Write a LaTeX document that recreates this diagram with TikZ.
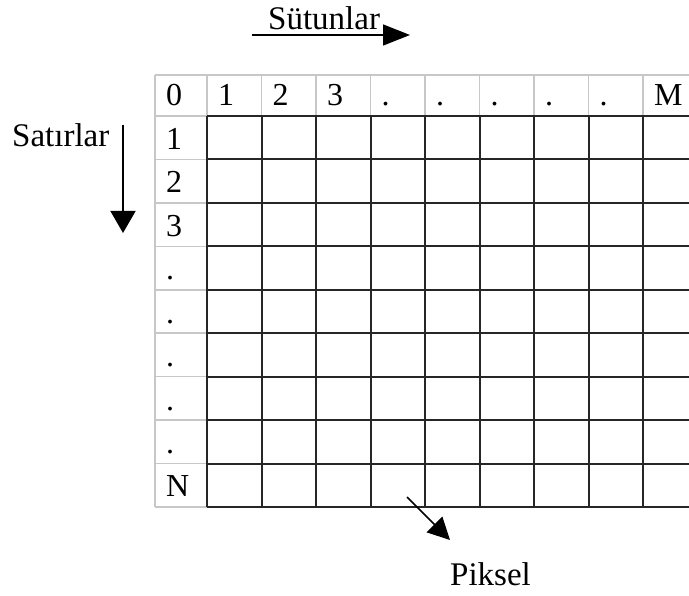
\documentclass[tikz,border=0pt]{standalone}
\usepackage{fontspec}
\setmainfont{Liberation Serif}
\usetikzlibrary{arrows.meta}
\begin{document}
\begin{tikzpicture}[x=1pt,y=-1pt,
  lbl/.style={font=\fontsize{32}{38}\selectfont, inner sep=0pt, anchor=base west},
  wlbl/.style={font=\fontsize{33}{40}\selectfont, inner sep=0pt, anchor=base west},
  grayline/.style={draw=black!22, line width=1.5pt},
  blackline/.style={draw=black!85, line width=2pt},
  arr/.style={line width=1.5pt, -{Triangle[length=22pt,width=24pt]}}]
\useasboundingbox (0,0) rectangle (689,596);
\fill[white] (0,0) rectangle (689,596);
\clip (0,0) rectangle (689,596);
% header (gray) lines
\foreach \i in {0,...,9} \draw[grayline] ({207+\i*54.5},75) -- ({207+\i*54.5},116);
\draw[grayline] (155,75) -- (155,507);
\draw[grayline] (155,75) -- (700,75);
\foreach \j in {0,...,9} \draw[grayline] (155,{116+\j*43.444}) -- (207,{116+\j*43.444});
% inner grid (black)
\foreach \i in {0,...,9} \draw[blackline] ({207+\i*54.5},116) -- ({207+\i*54.5},507);
\foreach \j in {0,...,9} \draw[blackline] (207,{116+\j*43.444}) -- (700,{116+\j*43.444});
% labels
\node[lbl] (h0) at (166,106) {0};
\foreach \t [count=\i] in {1,2,3,.,.,.,.,.,M}
  \node[lbl] (c\i) at ({207+(\i-1)*54.5+11},106) {\t};
\foreach \t [count=\j] in {1,2,3,.,.,.,.,.,N}
  \node[lbl] (r\j) at (166,{116+\j*43.444-10}) {\t};
\node[wlbl] (sut) at (268,30) {Sütunlar};
\node[wlbl] (sat) at (12,147) {Satırlar};
\node[wlbl] (pik) at (450,585) {Piksel};
% arrows
\coordinate (s1) at (252,35); \coordinate (s2) at (410,35);
\draw[arr,-{Triangle[length=27pt,width=21pt]}] (s1) -- (s2);
\coordinate (v1) at (123,125); \coordinate (v2) at (123,233);
\draw[arr,-{Triangle[length=22pt,width=25pt]}] (v1) -- (v2);
\coordinate (p1) at (407,497); \coordinate (p2) at (450,540);
\draw[arr,-{Triangle[length=22pt,width=22pt]}] (p1) -- (p2);
\end{tikzpicture}
\end{document}
